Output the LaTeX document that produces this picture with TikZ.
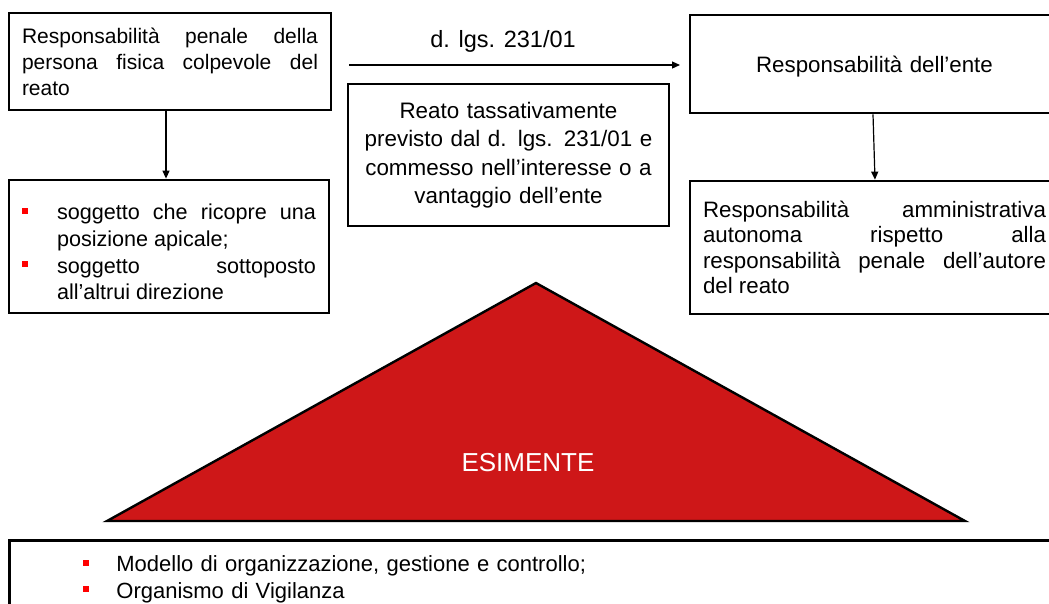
\documentclass[tikz,border=0pt]{standalone}
\usepackage{fontspec}
\setmainfont{Liberation Sans}
\usetikzlibrary{arrows.meta}
\definecolor{esred}{RGB}{206,23,24}
\definecolor{bulred}{RGB}{255,0,0}
\hyphenpenalty=10000
\exhyphenpenalty=10000
\newcommand{\redsq}{\textcolor{bulred}{\rule[6pt]{6pt}{6pt}}}
\newcommand{\bitem}[1]{\par\noindent\hangindent=#1\hangafter=1\makebox[#1][l]{\redsq}}
\begin{document}
\begin{tikzpicture}[x=1pt,y=-1pt,
  box/.style={draw, line width=2.8pt, inner xsep=13pt, inner ysep=0pt},
  arr/.style={line width=1.2pt, -{Triangle[length=8pt,width=7pt]}}]
\useasboundingbox (0,0) rectangle (1049,603);

\node[box, text width=296pt, minimum height=97pt, align=justify,
      font=\fontsize{21}{26}\selectfont] (A) at (170,61.5)
  {Responsabilità penale della\linebreak persona fisica colpevole del\linebreak reato};

\node[box, text width=294pt, minimum height=133pt, align=justify,
      font=\fontsize{21.6}{26.7}\selectfont] (B) at (169,246.5)
  {\bitem{35pt}soggetto che ricopre una\linebreak posizione apicale;\bitem{35pt}soggetto sottoposto\linebreak all’altrui direzione\par};

\node[box, text width=295pt, minimum height=142pt, align=center,
      font=\fontsize{22.4}{28.5}\selectfont] (M) at (508.5,155)
  {Reato tassativamente\\previsto dal d. lgs. 231/01 e\\commesso nell’interesse o a\\vantaggio dell’ente};

\node[box, text width=343pt, minimum height=98pt, align=center,
      font=\fontsize{22.3}{26}\selectfont, text depth=0pt, text height=17pt] (R1) at (874.5,64)
  {Responsabilità dell’ente};

\node[box, text width=343pt, minimum height=133pt, align=justify,
      font=\fontsize{22.3}{25.5}\selectfont] (R2) at (874.5,247.5)
  {Responsabilità amministrativa\linebreak autonoma rispetto alla\linebreak responsabilità penale dell’autore\linebreak del reato};

\node[box, anchor=north west, text width=903pt, inner xsep=74pt, inner ysep=5pt,
      align=left, font=\fontsize{22}{26.5}\selectfont] (E) at (8,539)
  {\bitem{33pt}Modello di organizzazione, gestione e controllo;\bitem{33pt}Organismo di Vigilanza\par};

\draw[line width=2.4pt, fill=esred, line join=miter] (536,283) -- (965,521) -- (107,521) -- cycle;
\node[text=white, font=\fontsize{26}{30}\selectfont, anchor=base] (T) at (528,471) {ESIMENTE};

\coordinate (h1) at (349,65);
\coordinate (h2) at (680,65);
\draw[arr] (h1) -- (h2);
\node[font=\fontsize{23.5}{28}\selectfont, anchor=base] (L) at (503,47) {d. lgs. 231/01};

\draw[arr] ([xshift=-4pt]A.south) -- ([xshift=-3pt]B.north);
\draw[arr] ([xshift=-1.5pt]R1.south) -- ([xshift=0.5pt]R2.north);
\end{tikzpicture}
\end{document}
